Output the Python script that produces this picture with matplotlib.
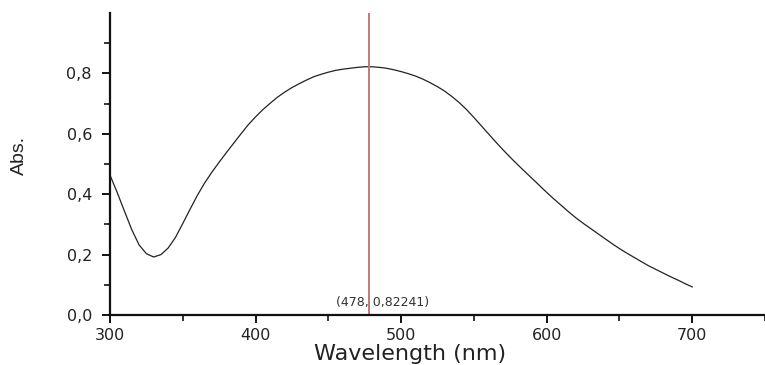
import matplotlib
matplotlib.use("Agg")
import matplotlib.pyplot as plt
from matplotlib.ticker import FixedLocator, FuncFormatter

# Data
wavelength = [300, 305, 310, 315, 320, 325, 330, 335, 340, 345, 350, 355, 360, 365,
              370, 375, 380, 385, 390, 395, 400, 405, 410, 415, 420, 425, 430, 435,
              440, 445, 450, 455, 460, 465, 470, 475, 478, 480, 485, 490, 495,
              500, 505, 510, 515, 520, 525, 530, 535, 540, 545, 550, 555, 560, 565,
              570, 575, 580, 585, 590, 595, 600, 605, 610, 615, 620, 625, 630, 635,
              640, 645, 650, 655, 660, 665, 670, 675, 680, 685, 690, 695, 700]
absorbance = [0.463, 0.405, 0.343, 0.282, 0.232, 0.203, 0.192, 0.200, 0.222, 0.257,
              0.303, 0.350, 0.396, 0.437, 0.473, 0.506, 0.538, 0.569, 0.600, 0.630,
              0.656, 0.680, 0.701, 0.721, 0.738, 0.753, 0.766, 0.778, 0.789, 0.797,
              0.804, 0.810, 0.814, 0.817, 0.820, 0.822, 0.822, 0.822, 0.820, 0.817,
              0.812, 0.806, 0.799, 0.791, 0.781, 0.769, 0.756, 0.741, 0.723, 0.703,
              0.680, 0.654, 0.627, 0.600, 0.573, 0.547, 0.522, 0.498, 0.475, 0.452,
              0.429, 0.406, 0.384, 0.363, 0.342, 0.322, 0.304, 0.287, 0.270, 0.253,
              0.236, 0.220, 0.205, 0.191, 0.177, 0.163, 0.151, 0.139, 0.127, 0.116,
              0.104, 0.093]

peak_x = 478
peak_y = 0.82241
peak_label = "(478, 0,82241)"

x_major = [300, 400, 500, 600, 700]
x_minor = [350, 450, 550, 650, 750]
y_major = [0.0, 0.2, 0.4, 0.6, 0.8]
y_minor = [0.1, 0.3, 0.5, 0.7, 0.9]

fig = plt.figure(figsize=(7.65, 3.65), dpi=100)
ax = fig.add_axes([110 / 765, 1 - 315 / 365, 1 - 110 / 765, (315 - 13) / 365])

ax.plot(wavelength, absorbance, color="#222222", lw=0.9)
ax.axvline(peak_x, color="#c07a7a", lw=1.4)
ax.text(487.4, 0.04, peak_label, ha="center", va="center", fontsize=9,
        family="DejaVu Sans", color="#333333")

ax.set_xlim(300, 750)
ax.set_ylim(0, 1.0)

for s in ["top", "right"]:
    ax.spines[s].set_visible(False)
for s in ["left", "bottom"]:
    ax.spines[s].set_linewidth(1.6)
    ax.spines[s].set_color("#111111")

ax.xaxis.set_major_locator(FixedLocator(x_major))
ax.xaxis.set_minor_locator(FixedLocator(x_minor))
ax.yaxis.set_major_locator(FixedLocator(y_major))
ax.yaxis.set_minor_locator(FixedLocator(y_minor))
ax.yaxis.set_major_formatter(FuncFormatter(lambda v, p: f"{v:.1f}".replace(".", ",")))

ax.tick_params(axis="both", which="major", direction="out", length=6, width=1.4,
               colors="#111111", labelsize=11.5, labelcolor="#222222")
ax.tick_params(axis="both", which="minor", direction="out", length=4.3, width=1.2,
               colors="#111111")
ax.tick_params(axis="y", which="major", pad=7)
ax.tick_params(axis="x", which="major", pad=3)
for lab in ax.get_xticklabels() + ax.get_yticklabels():
    lab.set_family("DejaVu Sans")

ax.set_xlabel("Wavelength (nm)", fontsize=16, family="DejaVu Sans", color="#222222")
ax.xaxis.label.set_va("baseline")
ax.xaxis.set_label_coords((410 - 110) / 655, -(360 - 315) / 302)

ax.set_ylabel("Abs.", fontsize=14, family=["Liberation Sans", "DejaVu Sans"], color="#222222")
ax.yaxis.set_label_coords((28 - 110) / 655, (315 - 155) / 302)

fig.savefig("out.png", dpi=100)
